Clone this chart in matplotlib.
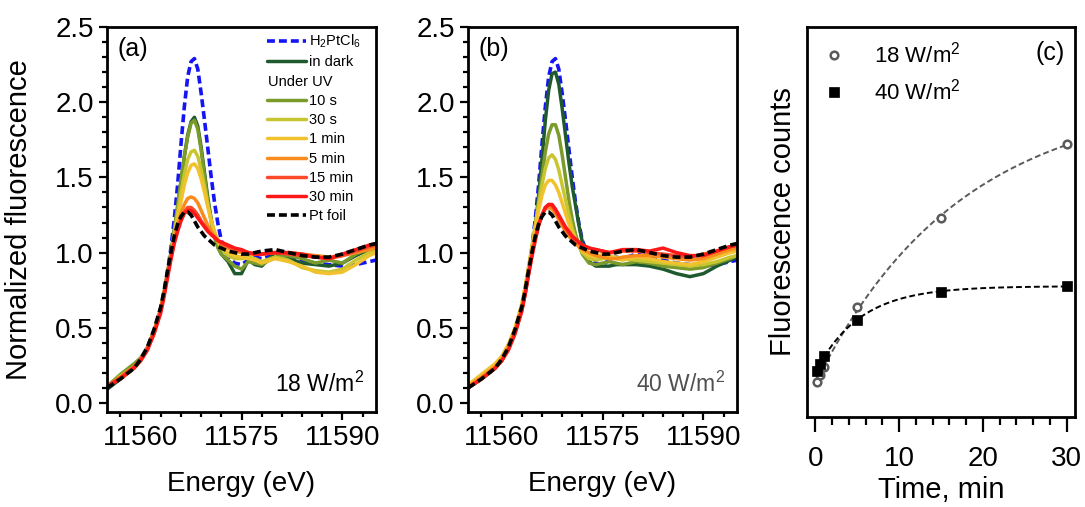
import numpy as np
import matplotlib
matplotlib.use("Agg")
import matplotlib.pyplot as plt
from matplotlib.lines import Line2D
from matplotlib.ticker import MultipleLocator, NullLocator, FixedLocator, FormatStrFormatter

plt.rcParams['font.family'] = ['Liberation Sans', 'DejaVu Sans']
plt.rcParams['mathtext.fontset'] = 'custom'
plt.rcParams['mathtext.rm'] = 'Liberation Sans'
plt.rcParams['mathtext.it'] = 'Liberation Sans:italic'
plt.rcParams['mathtext.bf'] = 'Liberation Sans:bold'

# ---------------- data ----------------
energy = [11555, 11557, 11559, 11560, 11561, 11562, 11563, 11563.5, 11564, 11564.5,
          11565, 11565.5, 11566, 11566.5, 11567, 11567.5, 11568, 11568.5, 11569, 11569.5,
          11570, 11570.5, 11571, 11571.5, 11572, 11573, 11574, 11575, 11576, 11577,
          11578, 11580, 11582, 11584, 11586, 11588, 11590, 11592, 11594, 11595]

h2ptcl6 = [0.11, 0.17, 0.24, 0.29, 0.37, 0.48, 0.63, 0.74, 0.87, 1.03,
           1.22, 1.45, 1.72, 1.97, 2.17, 2.27, 2.29, 2.22, 2.06, 1.88,
           1.69, 1.50, 1.33, 1.19, 1.08, 0.97, 0.93, 0.92, 0.95, 0.97,
           0.96, 0.99, 0.97, 0.95, 0.93, 0.92, 0.91, 0.92, 0.94, 0.95]
pt_foil = [0.10, 0.16, 0.23, 0.29, 0.37, 0.49, 0.64, 0.75, 0.88, 1.00,
           1.11, 1.19, 1.24, 1.27, 1.27, 1.25, 1.21, 1.17, 1.14, 1.11,
           1.09, 1.07, 1.05, 1.04, 1.03, 1.01, 1.00, 0.99, 0.99, 1.00,
           1.01, 1.02, 1.00, 0.98, 0.97, 0.97, 0.99, 1.02, 1.05, 1.06]

# panel (a): 18 W/m2
dark_a = [0.09, 0.16, 0.24, 0.29, 0.36, 0.47, 0.62, 0.73, 0.86, 0.99,
          1.14, 1.30, 1.47, 1.64, 1.78, 1.87, 1.90, 1.84, 1.70, 1.53,
          1.36, 1.22, 1.11, 1.04, 0.99, 0.94, 0.86, 0.86, 0.95, 0.92,
          0.91, 1.00, 0.96, 0.93, 0.92, 0.91, 0.93, 0.98, 1.02, 1.03]
s10_a = [0.11, 0.19, 0.26, 0.30, 0.37, 0.48, 0.63, 0.74, 0.87, 1.00,
         1.15, 1.31, 1.48, 1.64, 1.77, 1.86, 1.88, 1.82, 1.68, 1.51,
         1.34, 1.20, 1.10, 1.03, 0.99, 0.95, 0.91, 0.89, 0.94, 0.93,
         0.92, 0.97, 0.98, 0.96, 0.93, 0.95, 0.93, 0.99, 1.03, 1.02]
s30_a = [0.10, 0.18, 0.24, 0.29, 0.36, 0.47, 0.62, 0.73, 0.86, 0.99,
         1.12, 1.26, 1.40, 1.52, 1.62, 1.67, 1.68, 1.64, 1.55, 1.44,
         1.32, 1.21, 1.13, 1.07, 1.03, 0.98, 0.96, 0.96, 0.97, 0.96,
         0.94, 0.97, 0.95, 0.90, 0.88, 0.87, 0.89, 0.95, 1.00, 1.01]
m1_a = [0.11, 0.17, 0.23, 0.28, 0.36, 0.47, 0.62, 0.73, 0.86, 0.98,
        1.10, 1.22, 1.34, 1.45, 1.53, 1.58, 1.59, 1.56, 1.49, 1.40,
        1.30, 1.21, 1.14, 1.08, 1.04, 1.00, 0.98, 0.97, 0.96, 0.95,
        0.93, 0.96, 0.94, 0.91, 0.87, 0.86, 0.87, 0.92, 0.98, 1.00]
m5_a = [0.11, 0.17, 0.24, 0.29, 0.36, 0.47, 0.62, 0.73, 0.86, 0.98,
        1.09, 1.18, 1.26, 1.32, 1.36, 1.37, 1.36, 1.33, 1.28, 1.23,
        1.18, 1.14, 1.11, 1.08, 1.06, 1.03, 1.01, 1.00, 0.99, 0.99,
        0.99, 1.00, 1.00, 0.99, 0.98, 0.97, 0.98, 1.00, 1.02, 1.03]
m15_a = [0.11, 0.17, 0.24, 0.29, 0.36, 0.47, 0.62, 0.73, 0.86, 0.97,
         1.07, 1.15, 1.22, 1.27, 1.30, 1.30, 1.28, 1.25, 1.21, 1.18,
         1.15, 1.12, 1.10, 1.08, 1.06, 1.04, 1.02, 1.01, 1.00, 0.99,
         0.99, 1.00, 0.99, 0.98, 0.97, 0.96, 0.98, 1.01, 1.04, 1.05]
m30_a = [0.11, 0.16, 0.23, 0.28, 0.35, 0.46, 0.60, 0.71, 0.83, 0.95,
         1.06, 1.14, 1.21, 1.26, 1.28, 1.28, 1.26, 1.23, 1.20, 1.17,
         1.14, 1.12, 1.10, 1.08, 1.07, 1.05, 1.03, 1.02, 1.00, 0.99,
         0.99, 1.00, 1.00, 0.99, 0.97, 0.96, 0.99, 1.02, 1.05, 1.06]

# panel (b): 40 W/m2
dark_b = [0.10, 0.16, 0.23, 0.28, 0.36, 0.47, 0.62, 0.73, 0.86, 1.00,
          1.17, 1.38, 1.62, 1.88, 2.08, 2.19, 2.20, 2.12, 1.96, 1.78,
          1.60, 1.44, 1.31, 1.18, 1.07, 0.94, 0.91, 0.91, 0.91, 0.92,
          0.92, 0.92, 0.91, 0.89, 0.86, 0.84, 0.86, 0.91, 0.95, 0.97]
s10_b = [0.10, 0.16, 0.23, 0.28, 0.36, 0.47, 0.63, 0.74, 0.88, 1.02,
         1.17, 1.34, 1.51, 1.67, 1.79, 1.85, 1.85, 1.78, 1.65, 1.50,
         1.35, 1.22, 1.12, 1.05, 0.99, 0.93, 0.92, 0.93, 0.94, 0.93,
         0.92, 0.94, 0.93, 0.91, 0.90, 0.89, 0.90, 0.93, 0.96, 0.98]
s30_b = [0.11, 0.18, 0.25, 0.30, 0.38, 0.49, 0.65, 0.77, 0.90, 1.04,
         1.18, 1.32, 1.45, 1.56, 1.63, 1.65, 1.62, 1.55, 1.45, 1.35,
         1.25, 1.16, 1.09, 1.04, 1.00, 0.96, 0.95, 0.96, 0.97, 0.97,
         0.96, 0.95, 0.94, 0.93, 0.92, 0.91, 0.92, 0.94, 0.97, 0.98]
m1_b = [0.12, 0.19, 0.26, 0.31, 0.39, 0.50, 0.66, 0.77, 0.90, 1.03,
        1.16, 1.28, 1.38, 1.45, 1.48, 1.48, 1.45, 1.40, 1.33, 1.26,
        1.19, 1.13, 1.08, 1.04, 1.01, 0.98, 0.97, 0.99, 0.98, 0.96,
        0.95, 0.97, 0.96, 0.94, 0.93, 0.92, 0.94, 0.97, 1.00, 1.01]
m5_b = [0.11, 0.17, 0.24, 0.29, 0.37, 0.48, 0.63, 0.74, 0.87, 0.99,
        1.10, 1.19, 1.25, 1.29, 1.30, 1.29, 1.26, 1.22, 1.18, 1.14,
        1.11, 1.08, 1.06, 1.04, 1.02, 1.00, 0.98, 0.97, 0.96, 0.96,
        0.97, 0.98, 0.98, 0.97, 0.96, 0.95, 0.96, 0.99, 1.02, 1.03]
m15_b = [0.10, 0.16, 0.23, 0.28, 0.36, 0.47, 0.62, 0.73, 0.86, 0.98,
         1.09, 1.18, 1.25, 1.30, 1.32, 1.31, 1.28, 1.24, 1.20, 1.16,
         1.13, 1.10, 1.08, 1.06, 1.05, 1.03, 1.02, 1.01, 1.00, 1.00,
         1.01, 1.01, 1.00, 0.99, 0.98, 0.97, 0.99, 1.01, 1.04, 1.05]
m30_b = [0.10, 0.16, 0.23, 0.28, 0.35, 0.46, 0.61, 0.72, 0.85, 0.97,
         1.08, 1.18, 1.25, 1.30, 1.32, 1.32, 1.29, 1.25, 1.21, 1.17,
         1.14, 1.11, 1.09, 1.07, 1.05, 1.03, 1.02, 1.01, 1.00, 1.01,
         1.02, 1.02, 1.01, 1.03, 1.00, 0.98, 0.98, 1.01, 1.04, 1.05]

series_labels = ['H$_2$PtCl$_6$', 'in dark', '10 s', '30 s', '1 min',
                 '5 min', '15 min', '30 min', 'Pt foil']
energy_ticks = [11560, 11575, 11590]

# panel (c)
time_min = [0.17, 0.5, 1, 5, 15, 30]
counts_18 = [9.0, 10.8, 12.8, 28.2, 51.0, 70.0]
counts_40 = [11.8, 13.6, 15.6, 24.9, 32.1, 33.6]

# ---------------- styles ----------------
colors = ['#1414f5', '#1f5a2e', '#7a9a2c', '#c8c630', '#f2c22e',
          '#fa8c1e', '#fb4a2a', '#fd1818', '#000000']
LW = 2.5
FS = 20

fig = plt.figure(figsize=(10.85, 5.07), dpi=100)
W, H = 1085, 507
def fax(l, r, t, b):
    return fig.add_axes([l / W, (H - b) / H, (r - l) / W, (b - t) / H])

axa = fax(107, 376, 27, 412)
axb = fax(468, 737, 27, 412)
axc = fax(807, 1075, 27, 417)


def style_axis(ax):
    for sp in ax.spines.values():
        sp.set_linewidth(2.0)
    ax.tick_params(which='both', direction='out', width=1.6, labelsize=FS,
                   top=False, right=False)
    ax.tick_params(which='major', length=6)
    ax.tick_params(which='minor', length=3.5)


def spectra(ax, data, note, note_color, letter):
    handles = []
    for i, (y, lab) in enumerate(zip(data, series_labels)):
        kw = dict(color=colors[i], lw=LW, label=lab, solid_capstyle='round')
        if i in (0, 8):
            kw.update(ls=(0, (2.2, 1.1)), lw=2.6)
        h, = ax.plot(energy, y, **kw)
        handles.append(h)
    ax.set_xlim(11555, 11595)
    ax.set_ylim(-0.06, 2.5)
    ax.xaxis.set_major_locator(FixedLocator(energy_ticks))
    ax.xaxis.set_minor_locator(MultipleLocator(3, offset=1))
    ax.yaxis.set_major_locator(MultipleLocator(0.5))
    ax.yaxis.set_minor_locator(MultipleLocator(0.1))
    ax.yaxis.set_major_formatter(FormatStrFormatter('%.1f'))
    style_axis(ax)
    ax.set_xlabel('Energy (eV)', fontsize=FS, labelpad=14)
    ax.text(0.04, 0.975, letter, transform=ax.transAxes, fontsize=18,
            ha='left', va='top')
    ax.text(0.955, 0.04, note, transform=ax.transAxes, fontsize=16.5,
            ha='right', va='bottom', color=note_color)
    return handles


ha = spectra(axa, [h2ptcl6, dark_a, s10_a, s30_a, m1_a, m5_a, m15_a, m30_a, pt_foil],
             '18 W/m$^2$', 'black', '(a)')
spectra(axb, [h2ptcl6, dark_b, s10_b, s30_b, m1_b, m5_b, m15_b, m30_b, pt_foil],
        '40 W/m$^2$', '#505050', '(b)')
axa.set_ylabel('Normalized fluorescence', fontsize=21, labelpad=16)

# legend with "Under UV" subheading
blank = Line2D([], [], color='none')
leg_h = ha[:2] + [blank] + ha[2:]
leg_l = series_labels[:2] + ['Under UV'] + series_labels[2:]
leg = axa.legend(leg_h, leg_l, loc='upper left', bbox_to_anchor=(0.593, 0.985),
                 frameon=False, fontsize=10.5, handlelength=2.7,
                 handletextpad=0.2, labelspacing=0.36, borderpad=0,
                 borderaxespad=0)
leg.get_texts()[2].set_position((-41, 0))

# ---------------- panel (c) ----------------
def satfit(t, y):
    t = np.asarray(t, float)
    y = np.asarray(y, float)
    best = None
    for tau in np.linspace(0.5, 60, 2400):
        X = np.column_stack([np.ones_like(t), -np.exp(-t / tau)])
        coef = np.linalg.lstsq(X, y, rcond=None)[0]
        r = np.sum((X @ coef - y) ** 2)
        if best is None or r < best[0]:
            best = (r, coef[0], coef[1], tau)
    return best[1:]

tt = np.linspace(0, 30, 300)
A, B, tau = satfit(time_min, counts_18)
axc.plot(tt, A - B * np.exp(-tt / tau), color='#5a5a5a', lw=1.4, ls=(0, (3, 1.6)))
A, B, tau = satfit(time_min, counts_40)
axc.plot(tt, A - B * np.exp(-tt / tau), color='black', lw=1.4, ls=(0, (3, 1.6)))
axc.plot(time_min, counts_18, ls='none', marker='o', ms=5.5, mfc='white',
         mec='#5a5a5a', mew=1.8, label='18 W/m$^2$')
axc.plot(time_min, counts_40, ls='none', marker='s', ms=6.5, mfc='black',
         mec='black', mew=0.5, label='40 W/m$^2$')
axc.set_xlim(-1, 31)
axc.set_ylim(0, 100)
axc.xaxis.set_major_locator(MultipleLocator(10))
axc.xaxis.set_minor_locator(MultipleLocator(2))
axc.yaxis.set_major_locator(NullLocator())
axc.yaxis.set_minor_locator(NullLocator())
style_axis(axc)
axc.tick_params(axis='x', which='major', length=11, pad=10)
axc.tick_params(axis='x', which='minor', length=6)
axc.set_xlabel('Time, min', fontsize=21, labelpad=3)
axc.set_ylabel('Fluorescence counts', fontsize=21, labelpad=7)
axc.text(0.96, 0.965, '(c)', transform=axc.transAxes, fontsize=18,
         ha='right', va='top')
axc.legend(loc='upper left', bbox_to_anchor=(0.05, 0.962), frameon=False,
           fontsize=16, handlelength=1.2, handletextpad=1.2, labelspacing=0.5,
           borderpad=0, borderaxespad=0, numpoints=1)

fig.savefig('out.png', dpi=100)
